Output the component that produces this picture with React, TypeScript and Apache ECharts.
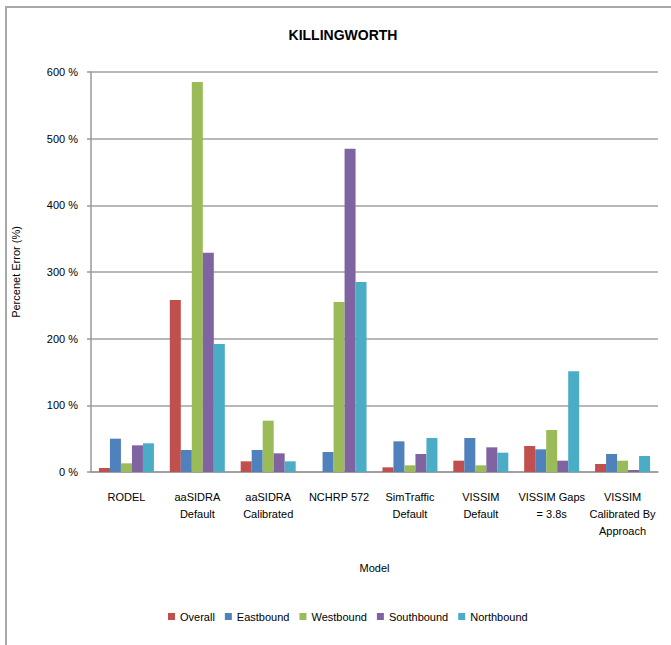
import React, { useEffect, useRef } from "react";
import * as echarts from "echarts";

const categories = [
  "RODEL",
  "aaSIDRA\nDefault",
  "aaSIDRA\nCalibrated",
  "NCHRP 572",
  "SimTraffic\nDefault",
  "VISSIM\nDefault",
  "VISSIM Gaps\n= 3.8s",
  "VISSIM\nCalibrated By\nApproach",
];
const seriesNames = ["Overall", "Eastbound", "Westbound", "Southbound", "Northbound"];
const overall = [6, 258, 16, 0, 7, 17, 39, 12];
const eastbound = [50, 33, 33, 30, 46, 51, 34, 27];
const westbound = [13, 585, 77, 255, 10, 10, 63, 17];
const southbound = [40, 329, 28, 485, 27, 37, 17, 3];
const northbound = [43, 192, 16, 285, 51, 29, 151, 24];
const colors = ["#C0504D", "#4F81BD", "#9BBB59", "#8064A2", "#4BACC6"];
const yTicks = [0, 100, 200, 300, 400, 500, 600];

const NARROW = "'Liberation Sans Narrow', 'Arial Narrow', 'Liberation Sans', Arial, sans-serif";
const REG = "'Liberation Sans', Arial, sans-serif";

export default function App() {
  const ref = useRef<HTMLDivElement>(null);
  useEffect(() => {
    document.body.style.margin = "0";
    const chart = echarts.init(ref.current!, null, { renderer: "svg" });
    const data = [overall, eastbound, westbound, southbound, northbound];
    chart.setOption({
      animation: false,
      backgroundColor: "#FFFFFF",
      title: {
        text: "KILLINGWORTH",
        left: 338,
        top: 23,
        textAlign: "center",
        textStyle: { fontFamily: NARROW, fontSize: 14, fontWeight: "bold", color: "#000" },
      },
      graphic: [
        {
          type: "rect",
          shape: { x: 6, y: 7, width: 720, height: 700 },
          style: { fill: "none", stroke: "#A8A8A8", lineWidth: 2 },
          silent: true,
        },
      ],
      legend: {
        left: 163,
        top: 606,
        itemWidth: 7,
        itemHeight: 7,
        itemGap: 10,
        icon: "rect",
        textStyle: { fontFamily: NARROW, fontSize: 11, color: "#000" },
        data: seriesNames,
      },
      grid: { left: 91, right: 13, top: 72, bottom: 173, outerBoundsMode: "none", containLabel: false },
      xAxis: {
        type: "category",
        data: categories,
        name: "Model",
        nameLocation: "middle",
        nameGap: 90,
        nameTextStyle: { fontFamily: REG, fontSize: 11, color: "#000" },
        axisLine: { lineStyle: { color: "#999", width: 1.5 } },
        axisTick: { show: false },
        axisLabel: {
          interval: 0,
          margin: 16,
          fontFamily: NARROW,
          fontSize: 11,
          lineHeight: 17,
          color: "#000",
        },
      },
      yAxis: {
        type: "value",
        min: 0,
        max: 600,
        interval: 100,
        name: "Percenet Error (%)",
        nameLocation: "middle",
        nameGap: 70,
        nameRotate: 90,
        nameTextStyle: { fontFamily: REG, fontSize: 11, color: "#000" },
        axisLine: { show: true, lineStyle: { color: "#999", width: 1.5 } },
        axisTick: { show: true, length: 4, lineStyle: { color: "#999", width: 1.5 } },
        splitLine: { lineStyle: { color: "#A0A0A0", width: 1.5 } },
        axisLabel: {
          margin: 13,
          fontFamily: NARROW,
          fontSize: 11,
          color: "#000",
          formatter: (v: number) => (yTicks.includes(v) ? `${v} %` : ""),
        },
      },
      series: seriesNames.map((name, i) => ({
        name,
        type: "bar",
        data: data[i],
        barWidth: 11,
        barGap: "0%",
        itemStyle: { color: colors[i] },
      })),
    });
    return () => chart.dispose();
  }, []);
  return <div ref={ref} style={{ width: 671, height: 645 }} />;
}
